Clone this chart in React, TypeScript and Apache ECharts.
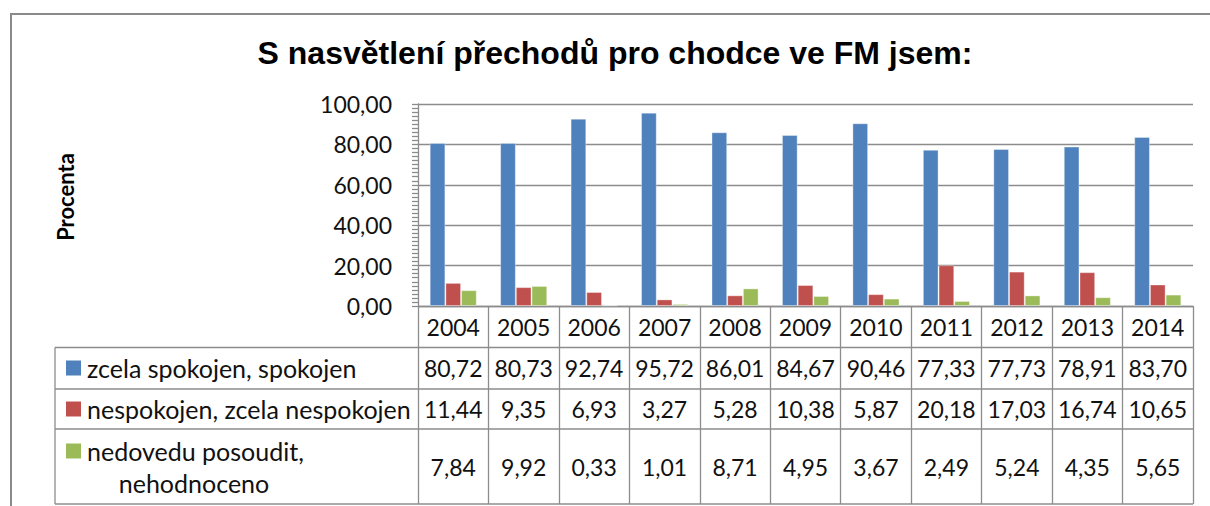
import React, { useEffect, useRef } from "react";
import * as echarts from "echarts";

const years = ["2004", "2005", "2006", "2007", "2008", "2009", "2010", "2011", "2012", "2013", "2014"];
const seriesNames = ["zcela spokojen, spokojen", "nespokojen, zcela nespokojen", "nedovedu posoudit, nehodnoceno"];
const satisfied = [80.72, 80.73, 92.74, 95.72, 86.01, 84.67, 90.46, 77.33, 77.73, 78.91, 83.7];
const dissatisfied = [11.44, 9.35, 6.93, 3.27, 5.28, 10.38, 5.87, 20.18, 17.03, 16.74, 10.65];
const undecided = [7.84, 9.92, 0.33, 1.01, 8.71, 4.95, 3.67, 2.49, 5.24, 4.35, 5.65];
const colors = ["#4F81BD", "#C0504D", "#9BBB59"];
const titleText = "S nasvětlení přechodů pro chodce ve FM jsem:";
const axisTitle = "Procenta";

const W = 1210;
const H = 506;
const GL = 418;
const GR = 1193;
const GT = 104;
const GB = 306;
const TAB_L = 55;
const ROW_LINES = [347.5, 389, 429, 504];
const ROW_CENTERS = [368, 409, 467];
const GRAY = "#8c8c8c";
const FONT = "Lato, 'Open Sans', sans-serif";

const fmt = (v: number) => v.toFixed(2).replace(".", ",");

export default function App() {
  const ref = useRef<HTMLDivElement>(null);
  useEffect(() => {
    document.body.style.margin = "0";
    if (!ref.current) return;
    const chart = echarts.init(ref.current, null, { renderer: "svg" });
    const colW = (GR - GL) / years.length;
    const data = [satisfied, dissatisfied, undecided];

    const graphics: any[] = [];
    graphics.push({
      type: "rect",
      shape: { x: 11, y: 14, width: 1400, height: 700 },
      style: { fill: "none", stroke: "#8a8a8a", lineWidth: 2 },
      silent: true,
    });
    graphics.push({
      type: "text",
      style: {
        text: titleText,
        x: 615,
        y: 53,
        align: "center",
        verticalAlign: "middle",
        font: "bold 32px 'Liberation Sans', Arial, sans-serif",
        fill: "#000",
      },
    });
    graphics.push({
      type: "text",
      x: 65,
      y: 197,
      rotation: Math.PI / 2,
      style: {
        text: axisTitle,
        x: 0,
        y: 0,
        align: "center",
        verticalAlign: "middle",
        font: `bold 22px ${FONT}`,
        fill: "#000",
      },
    });
    ROW_LINES.forEach((y) => {
      graphics.push({
        type: "line",
        shape: { x1: TAB_L, y1: y, x2: GR, y2: y },
        style: { stroke: GRAY, lineWidth: 1.3 },
      });
    });
    graphics.push({
      type: "line",
      shape: { x1: TAB_L, y1: ROW_LINES[0], x2: TAB_L, y2: ROW_LINES[3] },
      style: { stroke: GRAY, lineWidth: 1.3 },
    });
    const keyY = [368, 409, 451];
    const labelFont = `25px ${FONT}`;
    seriesNames.forEach((name, i) => {
      graphics.push({
        type: "rect",
        shape: { x: 66, y: keyY[i] - 7.5, width: 15, height: 15 },
        style: { fill: colors[i] },
      });
      if (i < 2) {
        graphics.push({
          type: "text",
          style: {
            text: name,
            x: 87,
            y: keyY[i],
            align: "left",
            verticalAlign: "middle",
            font: labelFont,
            fill: "#111",
          },
        });
      } else {
        const parts = name.split(", ");
        graphics.push({
          type: "text",
          style: {
            text: parts[0] + ",",
            x: 87,
            y: 451,
            align: "left",
            verticalAlign: "middle",
            font: labelFont,
            fill: "#111",
          },
        });
        graphics.push({
          type: "text",
          style: {
            text: parts[1],
            x: 194,
            y: 483,
            align: "center",
            verticalAlign: "middle",
            font: labelFont,
            fill: "#111",
          },
        });
      }
    });
    data.forEach((arr, r) => {
      arr.forEach((v, c) => {
        graphics.push({
          type: "text",
          style: {
            text: fmt(v),
            x: GL + colW * (c + 0.5),
            y: ROW_CENTERS[r],
            align: "center",
            verticalAlign: "middle",
            font: `23px ${FONT}`,
            fill: "#111",
          },
        });
      });
    });

    chart.setOption({
      animation: false,
      backgroundColor: "#fff",
      grid: { left: GL, right: W - GR, top: GT, bottom: H - GB, containLabel: false },
      xAxis: {
        type: "category",
        data: years,
        axisLine: { show: true, lineStyle: { color: GRAY, width: 1.3 } },
        axisTick: { show: true, length: ROW_LINES[3] - GB, lineStyle: { color: GRAY, width: 1.3 } },
        axisLabel: {
          show: true,
          margin: 9,
          fontSize: 23,
          fontFamily: FONT,
          color: "#111",
        },
        splitLine: { show: false },
      },
      yAxis: {
        type: "value",
        min: 0,
        max: 100,
        interval: 20,
        axisLine: { show: true, lineStyle: { color: GRAY, width: 1.3 } },
        axisTick: { show: true, length: 6, lineStyle: { color: GRAY, width: 1.3 } },
        minorTick: { show: true, splitNumber: 10, length: 6, lineStyle: { color: GRAY, width: 1.3 } },
        splitLine: { show: true, lineStyle: { color: GRAY, width: 1.3 } },
        axisLabel: {
          margin: 26,
          fontSize: 23,
          fontFamily: FONT,
          color: "#111",
          formatter: (v: number) => fmt(v),
        },
      },
      series: data.map((arr, i) => ({
        name: seriesNames[i],
        type: "bar",
        data: arr,
        barWidth: 15.7,
        barGap: "0%",
        barCategoryGap: "33%",
        itemStyle: { color: colors[i], borderColor: "rgba(255,255,255,0.35)", borderWidth: 1 },
      })),
      graphic: graphics,
    });
    return () => chart.dispose();
  }, []);
  return <div ref={ref} style={{ width: W, height: H }} />;
}
